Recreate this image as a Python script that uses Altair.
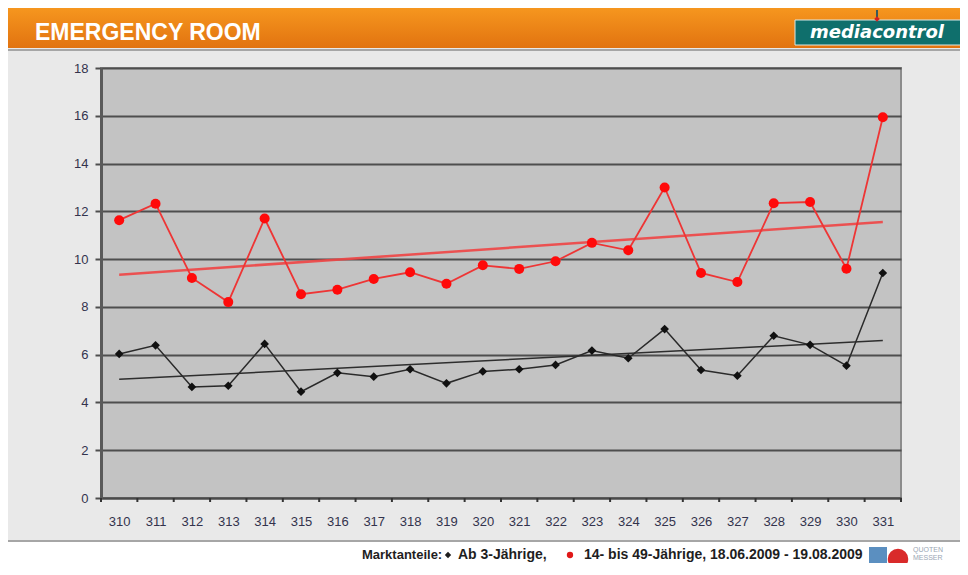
import altair as alt
import pandas as pd

# ---- data ----
weeks = list(range(310, 332))
age_14_49 = [11.63, 12.32, 9.21, 8.20, 11.70, 8.53, 8.72, 9.17, 9.45, 8.97, 9.74,
             9.59, 9.91, 10.68, 10.37, 13.00, 9.42, 9.04, 12.34, 12.39, 9.60, 15.94]
age_3plus = [6.03, 6.39, 4.65, 4.70, 6.45, 4.45, 5.24, 5.08, 5.39, 4.80, 5.30,
             5.39, 5.57, 6.17, 5.85, 7.07, 5.36, 5.12, 6.79, 6.41, 5.54, 9.42]
y_ticks = list(range(0, 19, 2))
tick_bounds = [w - 0.5 for w in weeks] + [weeks[-1] + 0.5]

title_text = "EMERGENCY ROOM"
logo_text = "mediacontrol"
foot_1 = "Marktanteile:"
foot_2 = "Ab 3-Jährige,"
foot_3 = "14- bis 49-Jährige, 18.06.2009 - 19.08.2009"

df_red = pd.DataFrame({"week": weeks, "value": age_14_49})
df_black = pd.DataFrame({"week": weeks, "value": age_3plus})
df_bounds = pd.DataFrame({"b": tick_bounds})
one = pd.DataFrame({"k": [0]})

W, H = 800, 430
LABEL_COLOR = "#33334d"

xscale = alt.Scale(domain=[309.5, 331.5], nice=False, zero=False)
xaxis = alt.Axis(values=weeks, format="d", tickSize=0, grid=False, labelPadding=17,
                 title=None, labelFontSize=13, labelColor=LABEL_COLOR,
                 labelFont="Liberation Sans", domainColor="#4a4a4a", domainWidth=2)
yscale = alt.Scale(domain=[0, 18], nice=False, zero=True)
yaxis = alt.Axis(values=y_ticks, title=None, grid=True, gridColor="#4e4e4e", gridWidth=2,
                 tickColor="#4e4e4e", tickSize=6, tickWidth=2, labelPadding=7,
                 labelFontSize=13, labelColor=LABEL_COLOR, labelFont="Liberation Sans",
                 domainColor="#5a5a5a", domainWidth=3)


def X(f):
    return alt.X(f, type="quantitative", scale=xscale, axis=xaxis)


def Y(f):
    return alt.Y(f, type="quantitative", scale=yscale, axis=yaxis)


base = alt.Chart(one)

# ---- decorations ----
header = base.mark_rect(
    fill=alt.Gradient(gradient="linear",
                      stops=[alt.GradientStop(color="#f7981f", offset=0),
                             alt.GradientStop(color="#e27310", offset=1)],
                      x1=0, x2=0, y1=0, y2=1)
).encode(x=alt.value(-94), x2=alt.value(870), y=alt.value(-62), y2=alt.value(-20))

title = base.mark_text(text=title_text, font="Liberation Sans", fontWeight="bold",
                       fontSize=23, color="white", align="left", baseline="alphabetic"
                       ).encode(x=alt.value(-66), y=alt.value(-28))

logo_box = base.mark_rect(fill="#0f6f6c", stroke="#d9e9e6", strokeWidth=1).encode(
    x=alt.value(694), x2=alt.value(862), y=alt.value(-48), y2=alt.value(-23))
logo_txt = base.mark_text(text=logo_text, font="DejaVu Sans", fontWeight="bold",
                          fontStyle="italic", fontSize=18, color="white",
                          align="center", baseline="middle"
                          ).encode(x=alt.value(776), y=alt.value(-35))
logo_stem = base.mark_rule(color="#3a5a5a", strokeWidth=2).encode(
    x=alt.value(776), y=alt.value(-58), y2=alt.value(-50))
logo_mark = base.mark_point(shape="diamond", filled=True, color="#d42020", size=30,
                            opacity=1).encode(x=alt.value(776), y=alt.value(-49))

panel = base.mark_rect(fill=None, stroke="#a6a6a6", strokeWidth=2).encode(
    x=alt.value(-94), x2=alt.value(872), y=alt.value(-18), y2=alt.value(473))
footer_bg = base.mark_rect(fill="white").encode(
    x=alt.value(-95), x2=alt.value(872), y=alt.value(474), y2=alt.value(500))

f1 = base.mark_text(text=foot_1, font="Liberation Sans", fontWeight="bold", fontSize=13,
                    color="#1e1e1e", align="left", baseline="middle"
                    ).encode(x=alt.value(261), y=alt.value(487))
f_dia = base.mark_point(shape="diamond", filled=True, color="#1e1e1e", size=40,
                        opacity=1).encode(x=alt.value(347), y=alt.value(487))
f2 = base.mark_text(text=foot_2, font="Liberation Sans", fontWeight="bold", fontSize=14,
                    color="#1e1e1e", align="left", baseline="middle"
                    ).encode(x=alt.value(357), y=alt.value(487))
f_dot = base.mark_point(shape="circle", filled=True, color="#e01818", size=40,
                        opacity=1).encode(x=alt.value(469), y=alt.value(487))
f3 = base.mark_text(text=foot_3, font="Liberation Sans", fontWeight="bold", fontSize=14,
                    color="#1e1e1e", align="left", baseline="middle"
                    ).encode(x=alt.value(483), y=alt.value(487))

q_blue = base.mark_rect(fill="#5b8fc0").encode(
    x=alt.value(768), x2=alt.value(786), y=alt.value(479), y2=alt.value(500))
q_red = base.mark_point(shape="circle", filled=True, color="#d92a2a", size=420,
                        opacity=1).encode(x=alt.value(797), y=alt.value(491))
q_txt1 = base.mark_text(text="QUOTEN", fontSize=7, color="#9aa6b4", align="left",
                        baseline="middle", font="Liberation Sans"
                        ).encode(x=alt.value(812), y=alt.value(482))
q_txt2 = base.mark_text(text="MESSER", fontSize=7, color="#9aa6b4", align="left",
                        baseline="middle", font="Liberation Sans"
                        ).encode(x=alt.value(812), y=alt.value(490))

# ---- x-axis boundary ticks ----
xticks = alt.Chart(df_bounds).mark_rule(color="#333333", strokeWidth=2).encode(
    x=X("b"), y=alt.value(H), y2=alt.value(H + 4))

# ---- data layers ----
red_trend = alt.Chart(df_red).transform_regression("week", "value").mark_line(
    color="#f04545", strokeWidth=2.5, opacity=0.9).encode(x=X("week"), y=Y("value"))
black_trend = alt.Chart(df_black).transform_regression("week", "value").mark_line(
    color="#2e2e2e", strokeWidth=1.5).encode(x=X("week"), y=Y("value"))

red_line = alt.Chart(df_red).mark_line(color="#ee3535", strokeWidth=1.8).encode(
    x=X("week"), y=Y("value"))
red_pts = alt.Chart(df_red).mark_point(shape="circle", filled=True, color="#ff0a0a",
                                       size=100, opacity=1).encode(x=X("week"), y=Y("value"))
black_line = alt.Chart(df_black).mark_line(color="#2a2a2a", strokeWidth=1.5).encode(
    x=X("week"), y=Y("value"))
black_pts = alt.Chart(df_black).mark_point(shape="diamond", filled=True, color="#111111",
                                           size=75, opacity=1).encode(x=X("week"), y=Y("value"))

chart = alt.layer(
    header, title, logo_box, logo_txt, logo_stem, logo_mark, panel, footer_bg,
    f1, f_dia, f2, f_dot, f3, q_blue, q_red, q_txt1, q_txt2,
    xticks, red_trend, black_trend, red_line, black_line, red_pts, black_pts,
).properties(
    width=W, height=H,
    autosize=alt.AutoSizeParams(type="none"),
    padding={"left": 93, "top": 60, "right": 59, "bottom": 65},
    background="#e9e9e9",
).configure_view(fill="#c3c3c3", stroke="#8c8c8c", strokeWidth=2)

chart.save("out.html", embed_options={"renderer": "svg", "actions": False})
